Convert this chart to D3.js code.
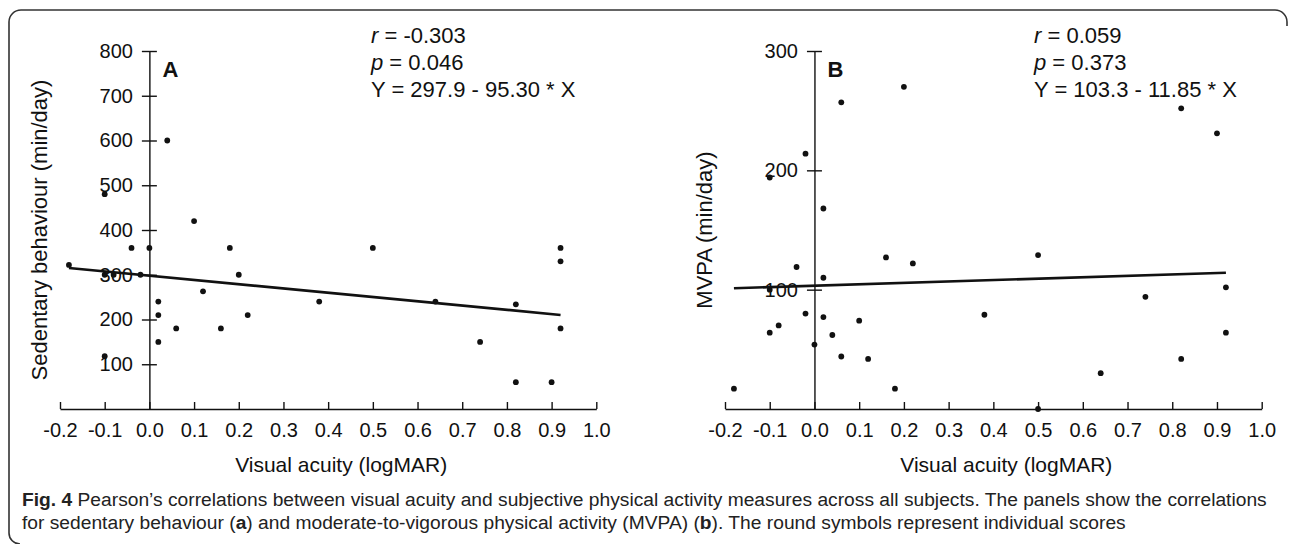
<!DOCTYPE html>
<html><head><meta charset="utf-8">
<script src="https://cdn.jsdelivr.net/npm/d3@7"></script>
<style>body{margin:0;background:#fff} svg{display:block}</style>
</head><body><svg id="c" width="1290" height="544"></svg>
<script>
// ---- data ----
const xTicks = [-0.2,-0.1,0.0,0.1,0.2,0.3,0.4,0.5,0.6,0.7,0.8,0.9,1.0];
const yTicksA = [100,200,300,400,500,600,700,800];
const yTicksB = [100,200,300];
const acuityA    = [-0.18,-0.10,-0.10,-0.10,-0.08,-0.04,-0.02,0.00,0.02,0.02,0.02,0.04,0.06,0.10,0.12,0.16,0.18,0.20,0.22,0.38,0.50,0.64,0.74,0.82,0.82,0.90,0.92,0.92,0.92];
const sedentaryA = [322,480,300,118,300,360,300,360,240,210,150,600,180,420,263,180,360,300,210,240,360,240,150,234,60,60,360,330,180];
const acuityB = [-0.18,-0.10,-0.10,-0.10,-0.08,-0.04,-0.02,-0.02,0.00,0.02,0.02,0.02,0.04,0.06,0.06,0.10,0.12,0.16,0.18,0.20,0.22,0.38,0.50,0.50,0.64,0.74,0.82,0.82,0.90,0.92,0.92];
const mvpaB   = [17,194,100,64,70,119,214,80,54,168,110,77,62,257,44,74,42,127,17,270,122,79,129,0,30,94,252,42,231,102,64];
const fitA = {intercept: 297.9, slope: -95.30, from: -0.18, to: 0.92};
const fitB = {intercept: 103.3, slope: 11.85, from: -0.18, to: 0.92};
const statsA = [["r"," = -0.303"],["p"," = 0.046"],["","Y = 297.9 - 95.30 * X"]];
const statsB = [["r"," = 0.059"],["p"," = 0.373"],["","Y = 103.3 - 11.85 * X"]];
const panelLetters = ["A","B"];
const yTitles = ["Sedentary behaviour (min/day)","MVPA (min/day)"];
const xTitle = "Visual acuity (logMAR)";

const svg = d3.select("#c");
const FONT = "'Liberation Sans', Arial, Helvetica, sans-serif";
const INK = "#111";
const fmt = d => d3.format(".1f")(d).replace("\u2212","-");

// frame
svg.append("path")
  .attr("d","M1287,26 L1287,22 A12,12 0 0 0 1275,10 L21,10 A12,12 0 0 0 9,22 L9,533 A11,11 0 0 0 20,544")
  .attr("fill","none").attr("stroke","#333").attr("stroke-width",1.6);

function panel(cfg){
  const x = d3.scaleLinear().domain([-0.2,1.0]).range(cfg.xr);
  const y = d3.scaleLinear().domain([0,cfg.ymax]).range([409,51]);
  const g = svg.append("g");

  // x axis
  const gx = g.append("g").attr("transform","translate(0,409)")
    .call(d3.axisBottom(x).tickValues(xTicks).tickFormat(fmt).tickSizeInner(-7).tickSizeOuter(0).tickPadding(14));
  gx.select(".domain").attr("stroke",INK).attr("stroke-width",1.4);
  gx.selectAll(".tick line").attr("stroke",INK).attr("stroke-width",1.4);
  gx.selectAll(".tick text").attr("font-family",FONT).attr("font-size",20).attr("fill",INK);

  // y axis
  const gy = g.append("g").attr("transform",`translate(${x(0)},0)`)
    .call(d3.axisLeft(y).tickValues(cfg.yt).tickSizeOuter(0).tickSizeInner(7.5).tickPadding(9));
  gy.select(".domain").attr("stroke",INK).attr("stroke-width",1.4);
  gy.selectAll(".tick line").attr("x1",-7.5).attr("x2",7.5).attr("stroke",INK).attr("stroke-width",1.4);
  gy.selectAll(".tick text").attr("font-family",FONT).attr("font-size",20).attr("fill",INK);

  // points
  g.append("g").selectAll("circle").data(cfg.xs.map((d,i)=>[d,cfg.ys[i]])).join("circle")
    .attr("cx",d=>x(d[0])).attr("cy",d=>y(d[1])).attr("r",2.9).attr("fill",INK);

  // regression line
  const f = cfg.fit;
  g.append("line")
    .attr("x1",x(f.from)).attr("y1",y(f.intercept+f.slope*f.from))
    .attr("x2",x(f.to)).attr("y2",y(f.intercept+f.slope*f.to))
    .attr("stroke",INK).attr("stroke-width",2.6);

  // panel letter
  g.append("text").attr("x",x(0)+13).attr("y",77).text(cfg.letter)
    .attr("font-family",FONT).attr("font-size",22).attr("font-weight","bold").attr("fill",INK);

  // stats
  cfg.stats.forEach((s,i)=>{
    const t = g.append("text").attr("x",cfg.sx).attr("y",43+27*i)
      .attr("font-family",FONT).attr("font-size",22).attr("fill",INK);
    if(s[0]) t.append("tspan").attr("font-style","italic").text(s[0]);
    t.append("tspan").text(s[1]);
  });

  // titles
  g.append("text").attr("transform",`translate(${cfg.ytx},230) rotate(-90)`)
    .attr("text-anchor","middle").attr("dominant-baseline","central")
    .attr("font-family",FONT).attr("font-size",22).attr("fill",INK).text(cfg.ytitle);
  g.append("text").attr("x",(cfg.xr[0]+cfg.xr[1])/2+13).attr("y",472).attr("text-anchor","middle")
    .attr("font-family",FONT).attr("font-size",21).attr("fill",INK).text(xTitle);
}

panel({xr:[60,596.3], ymax:800, yt:yTicksA, xs:acuityA, ys:sedentaryA, fit:fitA, stats:statsA, sx:371, letter:panelLetters[0], ytitle:yTitles[0], ytx:39});
panel({xr:[725,1261.7], ymax:300, yt:yTicksB, xs:acuityB, ys:mvpaB, fit:fitB, stats:statsB, sx:1034, letter:panelLetters[1], ytitle:yTitles[1], ytx:704});

// caption (condensed look via horizontal scale)
const capG = svg.append("g");
const cap1 = capG.append("text").attr("font-family",FONT).attr("font-size",18).attr("fill","#222");
cap1.append("tspan").attr("font-weight","bold").text("Fig. 4");
cap1.append("tspan").text(" Pearson’s correlations between visual acuity and subjective physical activity measures across all subjects. The panels show the correlations");
const cap2 = capG.append("text").attr("font-family",FONT).attr("font-size",18).attr("fill","#222");
cap2.append("tspan").text("for sedentary behaviour (");
cap2.append("tspan").attr("font-weight","bold").text("a");
cap2.append("tspan").text(") and moderate-to-vigorous physical activity (MVPA) (");
cap2.append("tspan").attr("font-weight","bold").text("b");
cap2.append("tspan").text("). The round symbols represent individual scores");
const sx = 1246/cap1.node().getComputedTextLength();
cap1.attr("transform",`translate(22,506) scale(${sx},1)`);
cap2.attr("transform",`translate(22,529) scale(${sx},1)`);
</script></body></html>
